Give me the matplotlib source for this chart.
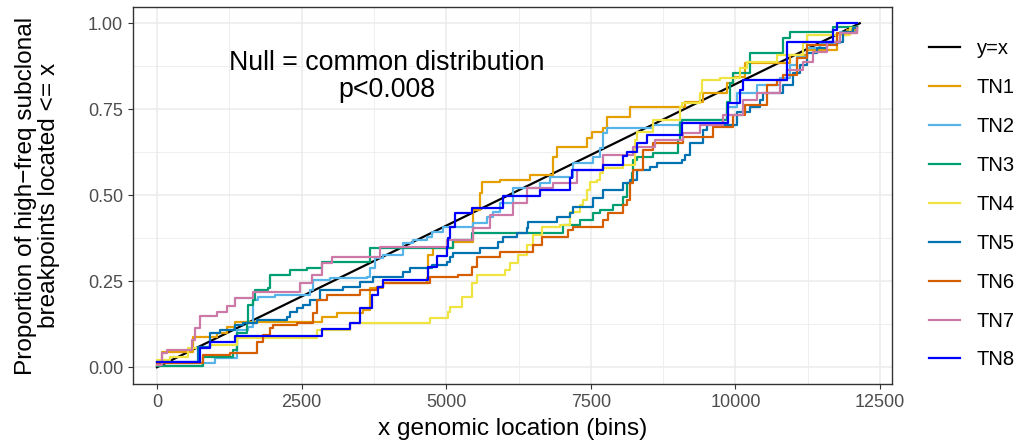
import matplotlib
matplotlib.use('Agg')
import matplotlib.pyplot as plt
from matplotlib.ticker import MultipleLocator

# 基因组长度 (bins), y=x 参考线
genome_len = 12150

labels = ['TN1', 'TN2', 'TN3', 'TN4', 'TN5', 'TN6', 'TN7', 'TN8']
colors = ['#E69F00', '#56B4E9', '#009E73', '#F0E442',
          '#0072B2', '#D55E00', '#CC79A7', '#0000FF']

# 每个样本的累积分布 (位置, 比例), 阶梯图
tn1_x = [0, 86, 622, 1037, 1210, 1349, 2853, 3112, 3562, 3683, 3908, 4668, 4686, 4772, 5118,
         5464, 5585, 5619, 5930, 6449, 6847, 6916, 7435, 7521, 7711, 7781, 8178, 9129, 9440,
         9855, 9959, 10167, 10945, 11239, 11757, 11930, 12103]
tn1_y = [0.006, 0.044, 0.087, 0.099, 0.116, 0.131, 0.145, 0.157, 0.166, 0.23, 0.244, 0.259,
         0.326, 0.346, 0.363, 0.456, 0.506, 0.538, 0.544, 0.558, 0.61, 0.64, 0.666, 0.683,
         0.695, 0.727, 0.756, 0.77, 0.797, 0.826, 0.843, 0.884, 0.907, 0.922, 0.965, 0.98, 0.99]

tn2_x = [0, 1000, 1383, 1573, 1660, 1746, 2040, 2645, 2697, 2991, 3631, 3683, 3769, 3908, 4253,
         4426, 4668, 4755, 4945, 5464, 5706, 5810, 5930, 6155, 6622, 6795, 7193, 7538, 7660,
         7711, 7781, 8576, 9043, 9855, 10028, 10374, 10771, 10945, 11066, 11239, 11463, 11809,
         12103]
tn2_y = [0.012, 0.026, 0.108, 0.116, 0.195, 0.203, 0.209, 0.224, 0.253, 0.259, 0.262, 0.288,
         0.317, 0.326, 0.36, 0.369, 0.378, 0.392, 0.407, 0.419, 0.436, 0.451, 0.477, 0.52,
         0.535, 0.552, 0.593, 0.61, 0.637, 0.68, 0.695, 0.703, 0.718, 0.756, 0.797, 0.82, 0.84,
         0.878, 0.901, 0.927, 0.942, 0.974, 0.99]

tn3_x = [0, 795, 1314, 1383, 1556, 1573, 1660, 1694, 1919, 1954, 2300, 2594, 2853, 3683, 5118,
         5446, 7020, 7314, 7538, 7660, 7884, 8057, 8126, 8213, 8230, 8299, 8576, 9008, 9043,
         9077, 9855, 9907, 9959, 10253, 10824, 10945, 11688, 12103]
tn3_y = [0.003, 0.029, 0.049, 0.099, 0.128, 0.18, 0.195, 0.224, 0.23, 0.267, 0.282, 0.288,
         0.305, 0.346, 0.369, 0.39, 0.413, 0.427, 0.448, 0.456, 0.471, 0.494, 0.535, 0.564,
         0.602, 0.61, 0.622, 0.66, 0.709, 0.718, 0.77, 0.826, 0.855, 0.913, 0.956, 0.974, 0.988,
         0.99]

tn4_x = [0, 225, 536, 916, 1383, 2766, 3337, 4720, 5031, 5066, 5273, 5446, 5533, 6017, 6103,
         6242, 6397, 6501, 6657, 6968, 7141, 7314, 7366, 7435, 7487, 7608, 7660, 7711, 8057,
         8265, 8299, 8576, 9043, 9077, 9388, 9423, 9734, 10080, 10201, 10720, 11170, 11239,
         11982, 12103]
tn4_y = [0.02, 0.029, 0.055, 0.064, 0.084, 0.108, 0.128, 0.142, 0.16, 0.174, 0.203, 0.244,
         0.267, 0.282, 0.302, 0.326, 0.355, 0.384, 0.407, 0.413, 0.451, 0.471, 0.485, 0.515,
         0.538, 0.544, 0.564, 0.578, 0.587, 0.66, 0.683, 0.718, 0.756, 0.767, 0.797, 0.834,
         0.84, 0.869, 0.887, 0.907, 0.942, 0.965, 0.985, 0.99]

tn5_x = [0, 709, 916, 1089, 1349, 1487, 1729, 2248, 2300, 2421, 2524, 2645, 2818, 3216, 3510,
         3735, 4253, 4374, 4755, 5014, 5066, 5118, 5585, 5896, 5982, 6224, 6397, 6414, 6916,
         7141, 7193, 7538, 7711, 8057, 8178, 8299, 8524, 8645, 9077, 9129, 9216, 9440, 9509,
         10028, 10253, 10426, 10478, 10824, 10997, 11118, 11239, 11411, 11584, 11861, 12034,
         12103]
tn5_y = [0.015, 0.058, 0.099, 0.108, 0.122, 0.128, 0.137, 0.145, 0.16, 0.172, 0.18, 0.195,
         0.224, 0.233, 0.247, 0.262, 0.276, 0.288, 0.297, 0.305, 0.32, 0.331, 0.346, 0.363,
         0.378, 0.39, 0.404, 0.422, 0.436, 0.448, 0.465, 0.491, 0.515, 0.535, 0.544, 0.573,
         0.581, 0.593, 0.602, 0.616, 0.651, 0.689, 0.703, 0.741, 0.756, 0.776, 0.797, 0.82,
         0.855, 0.878, 0.913, 0.927, 0.945, 0.974, 0.985, 0.99]

tn6_x = [0, 795, 1262, 1729, 1833, 1954, 2006, 2421, 2697, 2766, 2939, 3510, 3804, 3908, 4720,
         5204, 5446, 5533, 5930, 6501, 6657, 7106, 7193, 7711, 7798, 8057, 8126, 8178, 8230,
         8403, 8576, 9095, 9613, 9959, 10167, 10547, 10720, 10824, 11066, 11239, 11757, 12103]
tn6_y = [0.012, 0.035, 0.041, 0.073, 0.093, 0.113, 0.122, 0.128, 0.157, 0.195, 0.209, 0.224,
         0.233, 0.244, 0.262, 0.267, 0.291, 0.32, 0.334, 0.355, 0.378, 0.398, 0.407, 0.427,
         0.448, 0.471, 0.485, 0.535, 0.573, 0.631, 0.651, 0.669, 0.698, 0.733, 0.762, 0.82,
         0.834, 0.849, 0.898, 0.936, 0.971, 0.985]

tn7_x = [0, 86, 173, 605, 657, 743, 1037, 1210, 1349, 1660, 2473, 2680, 2853, 3026, 3856, 5014,
         5464, 5758, 6155, 6397, 6847, 7262, 7711, 8230, 8610, 9095, 9388, 9786, 10132, 10374,
         10771, 10893, 11170, 11342, 11584, 11809, 12103]
tn7_y = [0.006, 0.04, 0.05, 0.08, 0.115, 0.15, 0.16, 0.177, 0.2, 0.218, 0.244, 0.267, 0.302,
         0.32, 0.349, 0.369, 0.404, 0.442, 0.477, 0.52, 0.535, 0.573, 0.616, 0.64, 0.66, 0.68,
         0.703, 0.733, 0.776, 0.797, 0.834, 0.863, 0.887, 0.916, 0.945, 0.971, 0.985]

tn8_x = [0, 743, 916, 1349, 2853, 3337, 3510, 3717, 3821, 3908, 4686, 4841, 5014, 5031, 5066,
         5152, 5446, 5982, 6622, 7141, 7175, 7711, 8057, 8126, 8299, 8472, 9077, 9872, 10080,
         10132, 10893, 11688, 11757, 12103]
tn8_y = [0.015, 0.055, 0.073, 0.09, 0.11, 0.128, 0.172, 0.209, 0.233, 0.253, 0.291, 0.323,
         0.349, 0.375, 0.407, 0.448, 0.462, 0.497, 0.515, 0.549, 0.573, 0.587, 0.613, 0.625,
         0.651, 0.674, 0.709, 0.767, 0.805, 0.834, 0.945, 0.98, 1.0, 1.0]

series_x = [tn1_x, tn2_x, tn3_x, tn4_x, tn5_x, tn6_x, tn7_x, tn8_x]
series_y = [tn1_y, tn2_y, tn3_y, tn4_y, tn5_y, tn6_y, tn7_y, tn8_y]

plt.rcParams['font.family'] = ['Liberation Sans', 'DejaVu Sans']

fig = plt.figure(figsize=(10.26, 4.42), dpi=100)
ax = fig.add_axes([0.1296, 0.131, 0.8694 - 0.1296, 0.984 - 0.131])

handles = []
h, = ax.plot([0, genome_len], [0, 1], color='black', lw=1.6, label='y=x')
handles.append(h)
for xs, ys, c, lab in zip(series_x, series_y, colors, labels):
    h, = ax.step(xs, ys, where='post', color=c, lw=1.6, label=lab)
    handles.append(h)

ax.text(3977, 0.845, 'Null = common distribution\np<0.008', ha='center', va='center',
        fontsize=19.3, linespacing=1.05)

ax.set_xlim(-415, 12707)
ax.set_ylim(-0.049, 1.047)
ax.xaxis.set_major_locator(MultipleLocator(2500))
ax.xaxis.set_minor_locator(MultipleLocator(1250))
ax.yaxis.set_major_locator(MultipleLocator(0.25))
ax.yaxis.set_minor_locator(MultipleLocator(0.125))
ax.yaxis.set_major_formatter(plt.FuncFormatter(lambda v, p: f'{v:.2f}'))

ax.grid(True, which='major', color='#EBEBEB', lw=1.1)
ax.grid(True, which='minor', color='#EBEBEB', lw=0.55)
ax.set_axisbelow(True)
for s in ax.spines.values():
    s.set_color('#333333')
    s.set_linewidth(1.0)
ax.tick_params(which='major', length=3.5, width=0.8, color='#333333',
               labelsize=13, labelcolor='#4D4D4D')
ax.tick_params(which='minor', length=0)

ax.set_xlabel('x genomic location (bins)', fontsize=17.6, labelpad=5)
ax.set_ylabel('Proportion of high\u2212freq subclonal\nbreakpoints located <= x',
              fontsize=17.6, labelpad=20, linespacing=1.05)

fig.legend(handles=handles, loc='upper left', bbox_to_anchor=(0.898, 0.93),
           frameon=False, fontsize=14.5, handlelength=1.5, handletextpad=0.85,
           labelspacing=0.99, borderaxespad=0)

fig.savefig('out.png', dpi=100)
